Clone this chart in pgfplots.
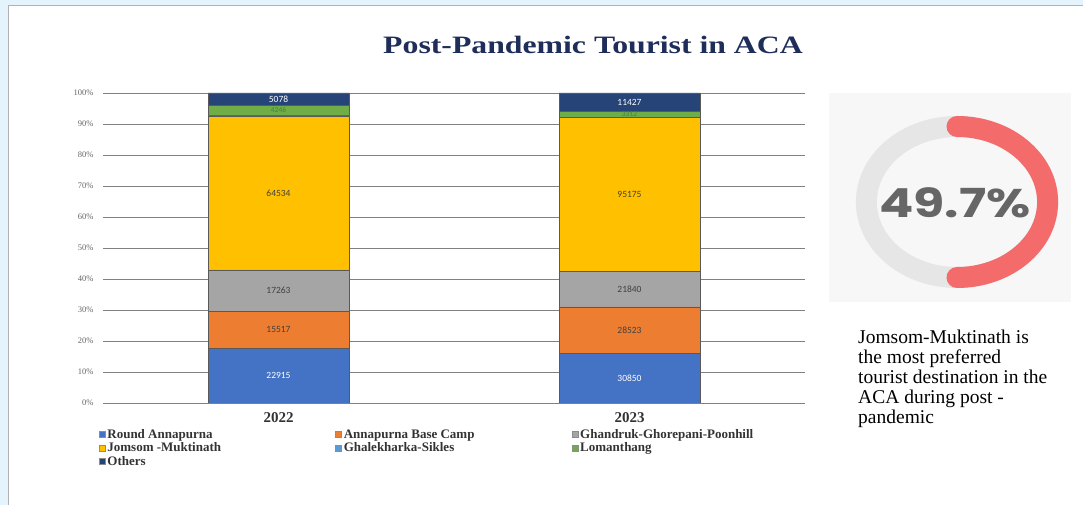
\documentclass[border=0pt]{standalone}
\usepackage{pgfplots}
\pgfplotsset{compat=1.18}
\usepackage{pgfplotstable}
\usepackage{fontspec}
\setmainfont{Liberation Serif}
\newfontfamily\tnr{Liberation Serif}
\newfontfamily\calibri{Carlito}
\newfontfamily\pop{Poppins}
\definecolor{cRA}{HTML}{4472C4}
\definecolor{cABC}{HTML}{ED7D31}
\definecolor{cGGP}{HTML}{A5A5A5}
\definecolor{cJM}{HTML}{FFC000}
\definecolor{cGS}{HTML}{5B9BD5}
\definecolor{cLO}{HTML}{70AD47}
\definecolor{cOT}{HTML}{264478}
\definecolor{titleblue}{HTML}{1F2D5A}
\definecolor{donutred}{HTML}{F46B6B}
\definecolor{donutgray}{HTML}{E6E6E6}
\definecolor{boxgray}{HTML}{F7F7F7}
\definecolor{slidebg}{HTML}{E4F3FC}
\pgfplotstableread{
x ra abc ggp jm gs lo ot tot
0 22915 15517 17263 64534 250 4246 5078 129803
1 30850 28523 21840 95175 373 3312 11427 191500
}\data
\pgfplotsset{
  panel/.style={at={(103pt,102pt)}, anchor=south west,
    scale only axis, width=702pt, height=310pt,
    xmin=-0.5, xmax=1.5, ymin=0, ymax=100},
  lab/.style={only marks, mark=none, point meta=explicit,
    nodes near coords={\pgfmathprintnumber[fixed,precision=0,1000 sep={},assume math mode=true]{\pgfplotspointmeta}},
    nodes near coords align=center,
    every node near coord/.append style={font=\calibri\fontsize{9.5}{9.5}\selectfont, anchor=center, text=#1}},
}
\begin{document}
\begin{tikzpicture}
\path[use as bounding box] (0pt,0pt) rectangle (1083pt,505pt);
\fill[slidebg] (0pt,0pt) rectangle (1083pt,505pt);
\fill[white] (8pt,0pt) rectangle (1083pt,499pt);
\draw[black!30, line width=1pt] (8pt,0pt) -- (8pt,499pt) -- (1083pt,499pt);
\node[font=\tnr\fontsize{25}{25}\selectfont\bfseries, text=titleblue] at (593pt,460pt) {\scalebox{1.27}[1]{Post-Pandemic Tourist in ACA}};
\begin{axis}[
  panel,
  ybar stacked, bar width=141pt,
  axis line style={draw=none}, tick style={draw=none},
  ymajorgrids, grid style={black!50, line width=0.9pt},
  ytick={0,10,...,100},
  yticklabel={\pgfmathprintnumber[assume math mode=true]{\tick}\%},
  yticklabel style={font=\tnr\fontsize{8.5}{8.5}\selectfont, text=black!60, xshift=-6pt},
  xtick={0,1}, xticklabels={2022,2023},
  xticklabel style={font=\tnr\fontsize{15}{15}\selectfont\bfseries, text=black!80, yshift=-6pt},
  every axis plot/.append style={draw=black!65, line width=0.5pt},
  legend columns=3,
  legend style={draw=none, fill=none, at={(-0.006,-0.078)}, anchor=north west,
    font=\tnr\fontsize{13}{13}\selectfont\bfseries, text=black!80,
    /tikz/every even column/.append style={column sep=0pt},
    row sep=-1pt, inner sep=0pt},
  legend cell align=left,
  legend image code/.code={\filldraw[#1, draw=black!45, line width=0.4pt] (0pt,-3pt) rectangle (6pt,3pt);},
]
\addplot[fill=cRA] table[x=x, y expr=\thisrow{ra}/\thisrow{tot}*100] {\data};
\addlegendentry{\makebox[226pt][l]{Round Annapurna}}
\addplot[fill=cABC] table[x=x, y expr=\thisrow{abc}/\thisrow{tot}*100] {\data};
\addlegendentry{\makebox[226pt][l]{Annapurna Base Camp}}
\addplot[fill=cGGP] table[x=x, y expr=\thisrow{ggp}/\thisrow{tot}*100] {\data};
\addlegendentry{Ghandruk-Ghorepani-Poonhill}
\addplot[fill=cJM] table[x=x, y expr=\thisrow{jm}/\thisrow{tot}*100] {\data};
\addlegendentry{\makebox[226pt][l]{Jomsom -Muktinath}}
\addplot[fill=cGS] table[x=x, y expr=\thisrow{gs}/\thisrow{tot}*100] {\data};
\addlegendentry{\makebox[226pt][l]{Ghalekharka-Sikles}}
\addplot[fill=cLO] table[x=x, y expr=\thisrow{lo}/\thisrow{tot}*100] {\data};
\addlegendentry{Lomanthang}
\addplot[fill=cOT] table[x=x, y expr=\thisrow{ot}/\thisrow{tot}*100] {\data};
\addlegendentry{Others}
\end{axis}
% value labels at segment centres
\begin{axis}[panel, hide axis, clip=false]
\addplot[lab=white] table[x=x, y expr=\thisrow{ra}/2/\thisrow{tot}*100, meta=ra] {\data};
\addplot[lab=black!75] table[x=x, y expr=(\thisrow{ra}+\thisrow{abc}/2)/\thisrow{tot}*100, meta=abc] {\data};
\addplot[lab=black!75] table[x=x, y expr=(\thisrow{ra}+\thisrow{abc}+\thisrow{ggp}/2)/\thisrow{tot}*100, meta=ggp] {\data};
\addplot[lab=black!75] table[x=x, y expr=(\thisrow{ra}+\thisrow{abc}+\thisrow{ggp}+\thisrow{jm}/2)/\thisrow{tot}*100, meta=jm] {\data};
\addplot[lab=green!35!black!75, every node near coord/.append style={font=\calibri\fontsize{7.5}{7.5}\selectfont}] table[x=x, y expr=(\thisrow{ra}+\thisrow{abc}+\thisrow{ggp}+\thisrow{jm}+\thisrow{gs}+\thisrow{lo}/2)/\thisrow{tot}*100, meta=lo] {\data};
\addplot[lab=white] table[x=x, y expr=(\thisrow{tot}-\thisrow{ot}/2)/\thisrow{tot}*100, meta=ot] {\data};
\end{axis}
% donut panel
\fill[boxgray] (829pt,203pt) rectangle (1071pt,412pt);
\begin{scope}[shift={(957pt,303pt)}, xscale=1.2]
  \draw[donutgray, line width=21pt] (0pt,0pt) circle (75.5pt);
  \draw[donutred, line width=21pt, line cap=round] (0pt,75.5pt) arc[start angle=90, end angle=-90, radius=75.5pt];
\end{scope}
\node[text=black!60, font=\pop\bfseries\fontsize{40}{40}\selectfont] at (955pt,302pt) {\scalebox{1.27}[1]{49.7\%}};
\node[anchor=north west, align=left, inner sep=0pt, font=\tnr\fontsize{19.5}{20}\selectfont] at (858pt,175pt)
  {Jomsom-Muktinath is\\the most preferred\\tourist destination in the\\ACA during post -\\pandemic};
\end{tikzpicture}
\end{document}
